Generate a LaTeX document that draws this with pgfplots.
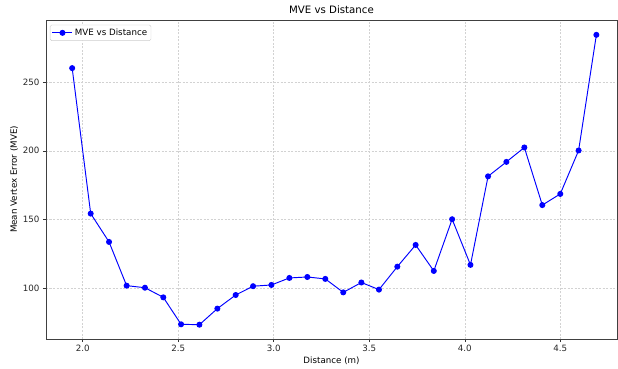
\documentclass[border=0pt]{standalone}
\usepackage{pgfplots}
\pgfplotsset{compat=1.18}
\usepackage{fontspec}
\setmainfont{DejaVu Sans}
\begin{document}
\begin{tikzpicture}
\begin{axis}[
  at={(0pt,0pt)}, anchor=south west,
  scale only axis,
  width=571pt, height=319pt,
  xmin=1.808, xmax=4.797,
  ymin=63.1, ymax=295.1,
  xtick={2.0,2.5,3.0,3.5,4.0,4.5},
  ytick={100,150,200,250},
  xticklabel style={/pgf/number format/.cd,fixed,fixed zerofill,precision=1},
  /pgf/number format/assume math mode=true,
  tick align=outside,
  xtick pos=bottom, ytick pos=left,
  major tick length=3pt,
  tick style={black!80, line width=0.5pt},
  axis line style={black!75, line width=0.6pt},
  grid=major,
  major grid style={gray!35, dash pattern=on 2pt off 1.5pt, line width=0.5pt},
  ticklabel style={font=\fontsize{8.7}{10}\selectfont, text=black!85},
  xlabel={Distance (m)},
  ylabel={Mean Vertex Error (MVE)},
  label style={font=\fontsize{8.7}{10}\selectfont},
  xlabel style={yshift=2.5pt},
  ylabel style={yshift=-2pt},
  title={MVE vs Distance},
  title style={font=\fontsize{10.2}{12}\selectfont, yshift=-3pt},
  legend style={font=\fontsize{8.7}{10}\selectfont, draw=gray!40, rounded corners=1.5pt, inner sep=1.8pt, at={(0.007,0.985)}, anchor=north west},
  legend cell align=left,
  legend image code/.code={
    \draw[mark repeat=2,mark phase=2] plot coordinates {(0pt,0pt) (10pt,0pt) (20pt,0pt)};
  },
]
\addplot[blue, line width=0.95pt, mark=*, mark size=2.5pt, mark options={blue, fill=blue}] coordinates {
(1.945,260.1)
(2.042,154.3)
(2.138,133.7)
(2.230,101.9)
(2.326,100.4)
(2.422,93.4)
(2.515,73.8)
(2.611,73.5)
(2.705,85.2)
(2.801,95.1)
(2.892,101.5)
(2.988,102.4)
(3.082,107.5)
(3.176,108.2)
(3.270,106.8)
(3.364,97.0)
(3.459,104.2)
(3.551,99.0)
(3.647,115.7)
(3.743,131.5)
(3.838,112.6)
(3.934,150.2)
(4.030,117.0)
(4.122,181.4)
(4.218,191.9)
(4.312,202.4)
(4.406,160.5)
(4.500,168.6)
(4.596,200.2)
(4.689,284.3)
};
\addlegendentry{MVE vs Distance}
\end{axis}
\pgfresetboundingbox
\useasboundingbox (-46pt,-30pt) rectangle (572pt,339pt);
\end{tikzpicture}
\end{document}
